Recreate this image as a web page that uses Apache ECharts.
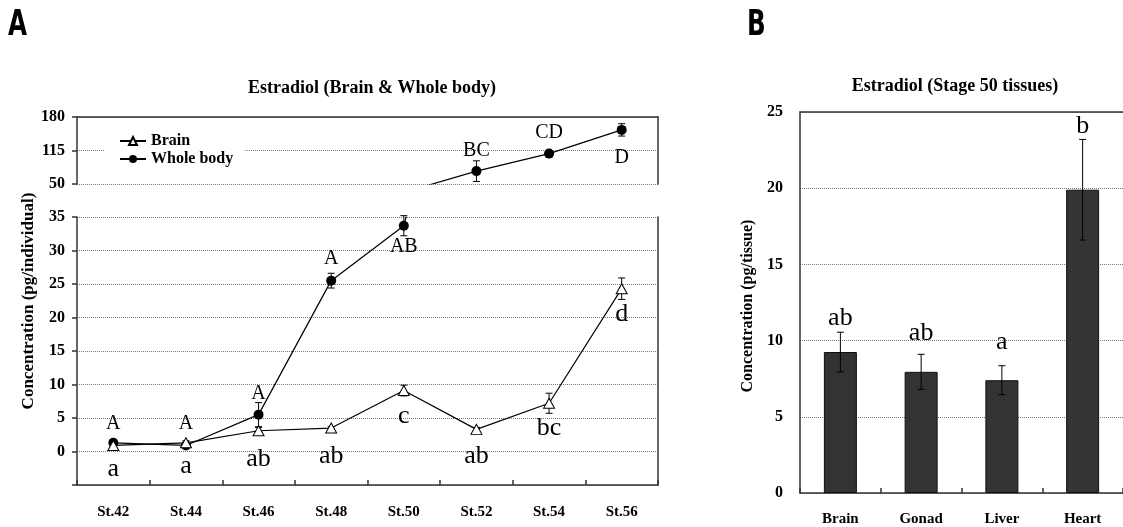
<!DOCTYPE html>
<html><head><meta charset="utf-8">
<script src="https://cdn.jsdelivr.net/npm/echarts@6/dist/echarts.min.js"></script>
<style>html,body{margin:0;padding:0;background:#fff}#c{width:1123px;height:527px}</style>
</head><body><div id="c"></div>
<script>
// ---- data ----
const stages = ['St.42','St.44','St.46','St.48','St.50','St.52','St.54','St.56'];
const brain = [0.9, 1.3, 3.1, 3.5, 9.1, 3.3, 7.2, 24.3];
const brainErr = [0.3, 0.3, 0.5, 0.2, 0.8, 0.3, 1.5, 1.6];
const brainLetters = ['a','a','ab','ab','c','ab','bc','d'];
const wholeBody = [1.3, 0.9, 5.5, 25.5, 33.7, 75, 109, 155];
const wholeBodyErr = [0.3, 0.2, 1.8, 1.1, 1.5, 20, 2, 12];
const wholeBodyLetters = ['A','A','A','A','AB','BC','CD','D'];
const upperTicks = [50, 115, 180];
const lowerTicks = [-5, 0, 5, 10, 15, 20, 25, 30, 35];
const tissues = ['Brain','Gonad','Liver','Heart'];
const tissueVals = [9.25, 7.95, 7.4, 19.9];
const tissueErr = [1.3, 1.15, 0.95, 3.3];
const tissueLetters = ['ab','ab','a','b'];
const tissueTicks = [0, 5, 10, 15, 20, 25];

// ---- layout (label offsets in px, relative to marks) ----
const brainLetterDy = [24, 23.5, 28, 28, 25.5, 26.5, 25, 25];
const wbLetterDy = [-19.5, -22, -21, -21.5, 21.5, -20, -20.5, 27.5];
const tissueLetterDy = [-14, -21, -24, -13];

const SERIF = '"Liberation Serif", "Times New Roman", serif';
const AX = {color: '#333', width: 1.5};
const SPLIT = {show: true, lineStyle: {type: 'dotted', color: '#777', width: 1}};

function inside(cs, y) { return y >= cs.y - 0.6 && y <= cs.y + cs.height + 0.6; }

function errRender(vals, errs, capW) {
  return function (params, api) {
    const i = api.value(0);
    const v = vals[i], e = errs[i];
    const c = api.coord([i, v]);
    const cs = params.coordSys;
    if (!inside(cs, c[1])) return null;
    const t = api.coord([i, v + e]), b = api.coord([i, v - e]);
    const st = {stroke: '#000', lineWidth: 1};
    return {type: 'group', children: [
      {type: 'line', shape: {x1: c[0], y1: t[1], x2: c[0], y2: b[1]}, style: st},
      {type: 'line', shape: {x1: c[0] - capW / 2, y1: t[1], x2: c[0] + capW / 2, y2: t[1]}, style: st},
      {type: 'line', shape: {x1: c[0] - capW / 2, y1: b[1], x2: c[0] + capW / 2, y2: b[1]}, style: st}
    ]};
  };
}
function letterRender(vals, anchorAdd, letters, dys, size) {
  return function (params, api) {
    const i = api.value(0);
    const c = api.coord([i, vals[i]]);
    const cs = params.coordSys;
    if (!inside(cs, c[1])) return null;
    const a = api.coord([i, vals[i] + (anchorAdd ? anchorAdd[i] : 0)]);
    return {type: 'text', x: a[0], y: a[1] + dys[i],
      style: {text: letters[i], font: size + 'px ' + SERIF, fill: '#000', align: 'center', verticalAlign: 'middle'}};
  };
}
const idx = (arr) => arr.map((v, i) => [i, v]);

const chart = echarts.init(document.getElementById('c'), null, {renderer: 'canvas'});
const option = {
  backgroundColor: '#fff',
  animation: false,
  title: [
    {text: 'Estradiol (Brain & Whole body)', left: 372, top: 79, textAlign: 'center', padding: 0,
     textStyle: {fontFamily: SERIF, fontWeight: 'bold', fontSize: 18, color: '#000'}},
    {text: 'Estradiol (Stage 50 tissues)', left: 955, top: 77, textAlign: 'center', padding: 0,
     textStyle: {fontFamily: SERIF, fontWeight: 'bold', fontSize: 18, color: '#000'}}
  ],
  legend: {
    data: ['Brain', 'Whole body'], orient: 'vertical', left: 105, top: 132,
    backgroundColor: '#fff', padding: [1, 12, 1, 14], itemWidth: 26, itemHeight: 10, itemGap: 2,
    textStyle: {fontFamily: SERIF, fontWeight: 'bold', fontSize: 16, color: '#000'}
  },
  graphic: [
    {type: 'text', x: 8, y: 25.5, scaleX: 0.78,
     style: {text: 'A', font: 'bold 35px "DejaVu Sans Condensed", "DejaVu Sans"', fill: '#000', verticalAlign: 'middle'}},
    {type: 'text', x: 747, y: 25.5, scaleX: 0.78,
     style: {text: 'B', font: 'bold 35px "DejaVu Sans Condensed", "DejaVu Sans"', fill: '#000', verticalAlign: 'middle'}},
    {type: 'text', x: 29, y: 301, rotation: Math.PI / 2,
     style: {text: 'Concentration (pg/individual)', font: 'bold 17px ' + SERIF, fill: '#000', align: 'center', verticalAlign: 'middle'}},
    {type: 'text', x: 748, y: 306, rotation: Math.PI / 2,
     style: {text: 'Concentration (pg/tissue)', font: 'bold 16px ' + SERIF, fill: '#000', align: 'center', verticalAlign: 'middle'}}
  ],
  grid: [
    {left: 77, top: 117, width: 581, height: 67},
    {left: 77, top: 217, width: 581, height: 268},
    {left: 800, top: 112, width: 328, height: 381}
  ],
  xAxis: [
    {gridIndex: 0, type: 'category', data: stages, position: 'top', boundaryGap: true,
     axisLine: {show: true, onZero: false, lineStyle: AX}, axisTick: {show: false}, axisLabel: {show: false}, splitLine: {show: false}},
    {gridIndex: 1, type: 'category', data: stages, position: 'bottom', boundaryGap: true,
     axisLine: {show: true, onZero: false, lineStyle: AX}, axisTick: {show: true, inside: true, length: 5, lineStyle: AX},
     axisLabel: {margin: 20, fontFamily: SERIF, fontWeight: 'bold', fontSize: 15, color: '#000'}},
    {gridIndex: 2, type: 'category', data: tissues, position: 'bottom', boundaryGap: true,
     axisLine: {show: true, onZero: false, lineStyle: AX}, axisTick: {show: true, inside: true, length: 5, lineStyle: AX},
     axisLabel: {margin: 19, fontFamily: SERIF, fontWeight: 'bold', fontSize: 15, color: '#000'}},
    {gridIndex: 2, type: 'category', data: tissues, position: 'top',
     axisLine: {show: true, onZero: false, lineStyle: AX}, axisTick: {show: false}, axisLabel: {show: false}}
  ],
  yAxis: [
    {gridIndex: 0, type: 'value', min: upperTicks[0], max: upperTicks[upperTicks.length - 1], interval: upperTicks[1] - upperTicks[0],
     axisLine: {show: true, onZero: false, lineStyle: AX}, axisTick: {show: true, length: 5, lineStyle: AX},
     axisLabel: {margin: 12, fontFamily: SERIF, fontWeight: 'bold', fontSize: 16, color: '#000'}, splitLine: SPLIT},
    {gridIndex: 0, type: 'value', position: 'right', min: upperTicks[0], max: upperTicks[upperTicks.length - 1],
     axisLine: {show: true, onZero: false, lineStyle: AX}, axisTick: {show: false}, axisLabel: {show: false}, splitLine: {show: false}},
    {gridIndex: 1, type: 'value', min: lowerTicks[0], max: lowerTicks[lowerTicks.length - 1], interval: lowerTicks[1] - lowerTicks[0],
     axisLine: {show: true, onZero: false, lineStyle: AX}, axisTick: {show: true, length: 5, lineStyle: AX},
     axisLabel: {margin: 12, fontFamily: SERIF, fontWeight: 'bold', fontSize: 16, color: '#000',
                 formatter: (v) => (v < 0 ? '' : String(v))}, splitLine: SPLIT},
    {gridIndex: 1, type: 'value', position: 'right', min: lowerTicks[0], max: lowerTicks[lowerTicks.length - 1],
     axisLine: {show: true, onZero: false, lineStyle: AX}, axisTick: {show: false}, axisLabel: {show: false}, splitLine: {show: false}},
    {gridIndex: 2, type: 'value', min: tissueTicks[0], max: tissueTicks[tissueTicks.length - 1], interval: tissueTicks[1] - tissueTicks[0],
     axisLine: {show: true, onZero: false, lineStyle: AX}, axisTick: {show: false},
     axisLabel: {margin: 17, fontFamily: SERIF, fontWeight: 'bold', fontSize: 16, color: '#000'}, splitLine: SPLIT}
  ],
  series: [
    {type: 'custom', xAxisIndex: 1, yAxisIndex: 2, data: idx(brain), z: 1, renderItem: errRender(brain, brainErr, 7), silent: true},
    {type: 'custom', xAxisIndex: 1, yAxisIndex: 2, data: idx(wholeBody), z: 1, renderItem: errRender(wholeBody, wholeBodyErr, 7), silent: true},
    {type: 'custom', xAxisIndex: 0, yAxisIndex: 0, data: idx(wholeBody), z: 1, renderItem: errRender(wholeBody, wholeBodyErr, 7), silent: true},
    {name: 'Whole body', type: 'line', xAxisIndex: 1, yAxisIndex: 2, data: wholeBody, clip: true, z: 3,
     symbol: 'circle', symbolSize: 10, itemStyle: {color: '#000'}, lineStyle: {color: '#000', width: 1.2}},
    {name: 'Whole body', type: 'line', xAxisIndex: 0, yAxisIndex: 0, data: wholeBody, clip: true, z: 3,
     symbol: 'circle', symbolSize: 10, itemStyle: {color: '#000'}, lineStyle: {color: '#000', width: 1.2}},
    {name: 'Brain', type: 'line', xAxisIndex: 1, yAxisIndex: 2, data: brain, clip: true, z: 4,
     symbol: 'triangle', symbolSize: [11, 10], itemStyle: {color: '#fff', borderColor: '#000', borderWidth: 1},
     lineStyle: {color: '#000', width: 1.2}},
    {type: 'custom', xAxisIndex: 1, yAxisIndex: 2, data: idx(brain), z: 5, silent: true,
     renderItem: letterRender(brain, null, brainLetters, brainLetterDy, 26)},
    {type: 'custom', xAxisIndex: 1, yAxisIndex: 2, data: idx(wholeBody), z: 5, silent: true,
     renderItem: letterRender(wholeBody, null, wholeBodyLetters, wbLetterDy, 20)},
    {type: 'custom', xAxisIndex: 0, yAxisIndex: 0, data: idx(wholeBody), z: 5, silent: true,
     renderItem: letterRender(wholeBody, null, wholeBodyLetters, wbLetterDy, 20)},
    {type: 'bar', xAxisIndex: 2, yAxisIndex: 4, data: tissueVals, barWidth: 33, z: 2,
     itemStyle: {color: '#333', borderColor: '#111', borderWidth: 1}},
    {type: 'custom', xAxisIndex: 2, yAxisIndex: 4, data: idx(tissueVals), z: 4, silent: true,
     renderItem: errRender(tissueVals, tissueErr, 7)},
    {type: 'custom', xAxisIndex: 2, yAxisIndex: 4, data: idx(tissueVals), z: 5, silent: true,
     renderItem: letterRender(tissueVals, tissueErr, tissueLetters, tissueLetterDy, 26)}
  ]
};
chart.setOption(option);
</script>
</body></html>
